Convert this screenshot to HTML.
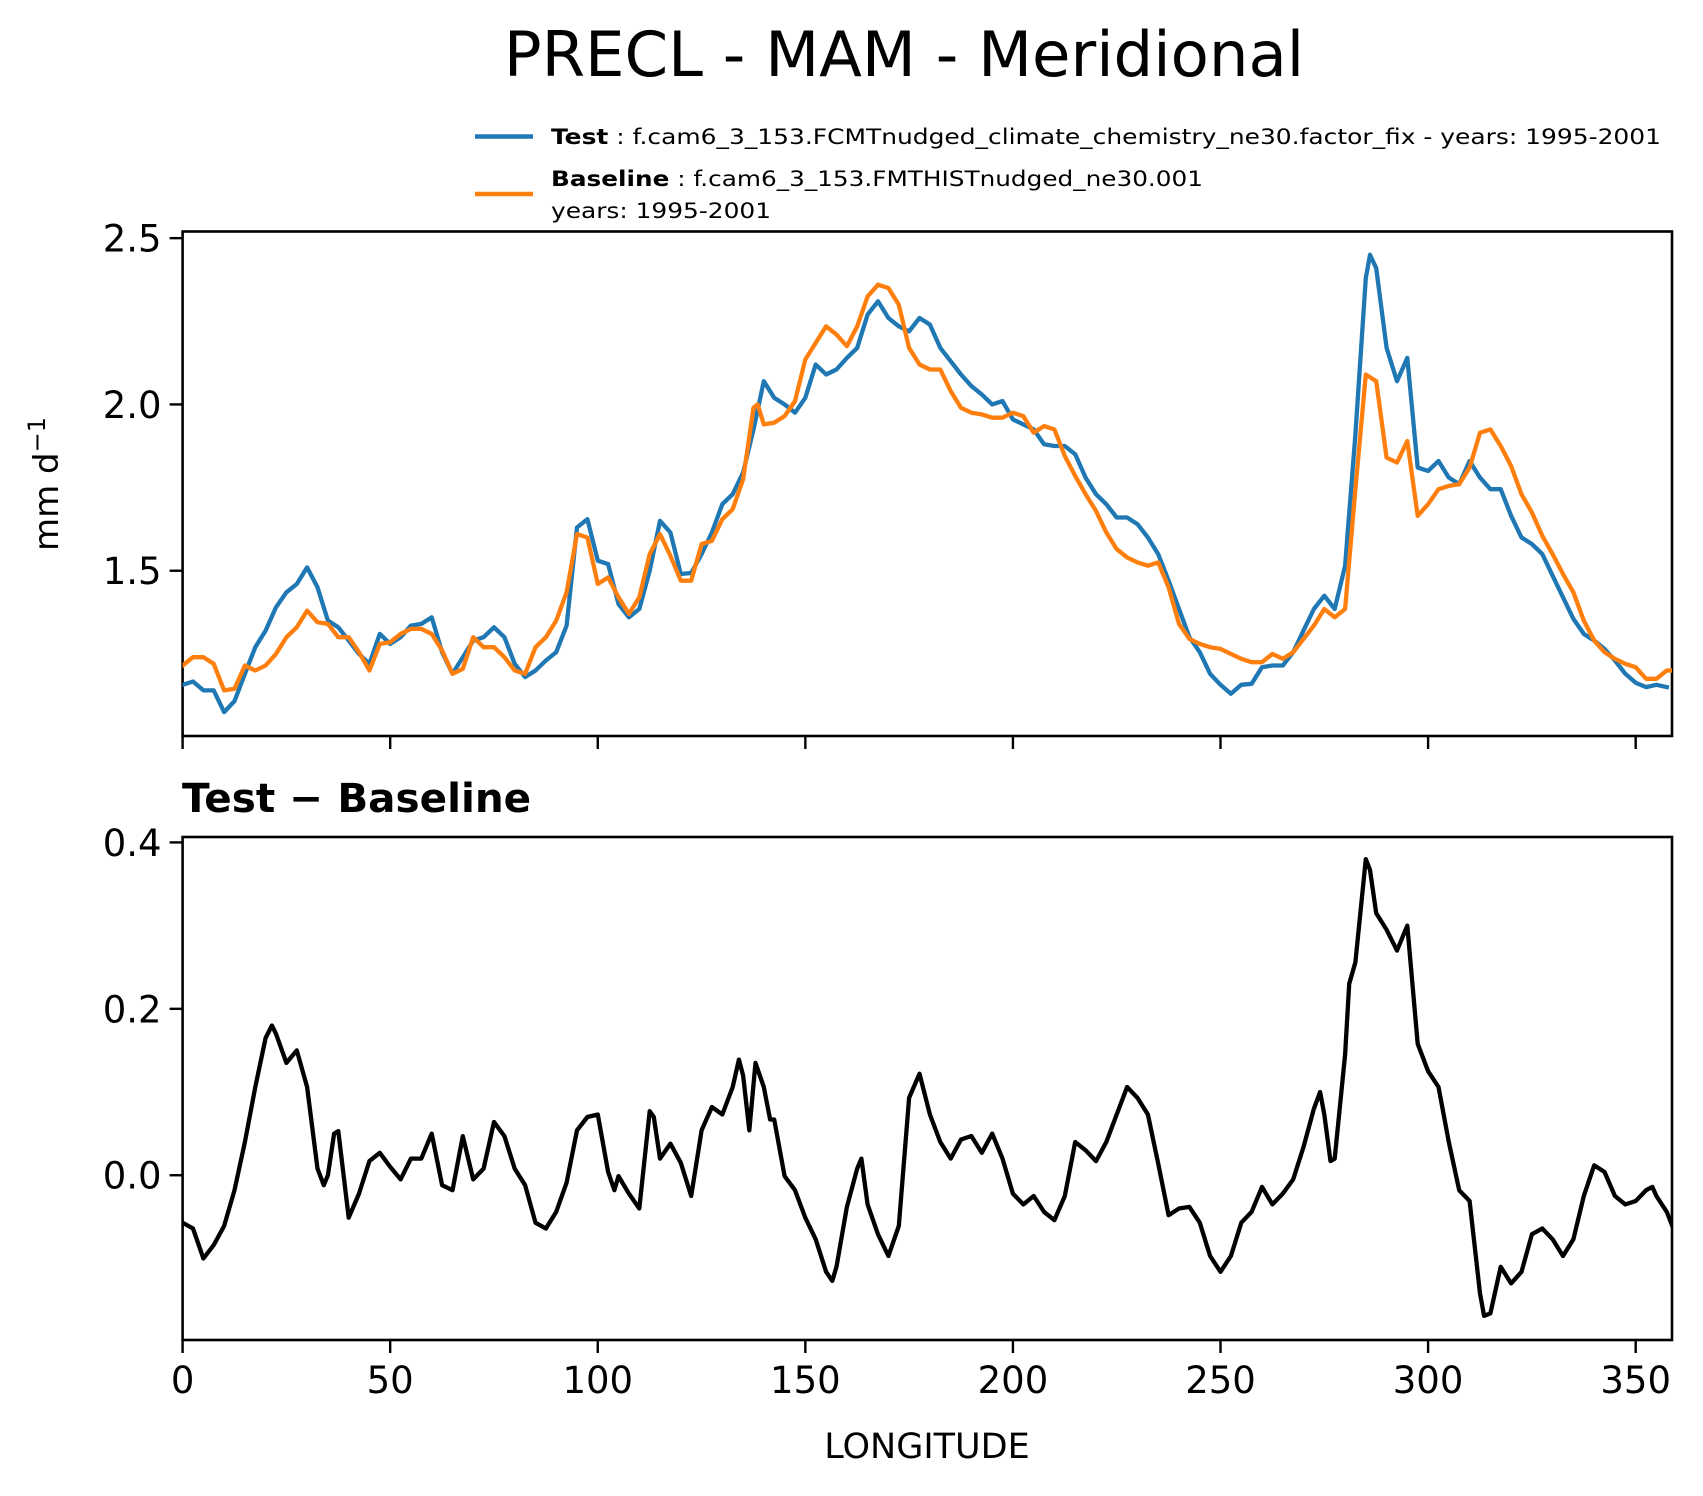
<!DOCTYPE html>
<html><head><meta charset="utf-8">
<style>
html,body{margin:0;padding:0;background:#fff;}
svg{display:block;font-family:"DejaVu Sans","Liberation Sans",sans-serif;}
</style></head>
<body>
<svg id="chart" width="1703" height="1496" viewBox="0 0 1703 1496" xmlns="http://www.w3.org/2000/svg">
<rect width="1703" height="1496" fill="#fff"/>
<text x="904" y="76" font-size="62.5" text-anchor="middle" fill="#000">PRECL - MAM - Meridional</text>
<g>
  <line x1="475" y1="136.5" x2="533" y2="136.5" stroke="#1f77b4" stroke-width="4.5"/>
  <text x="551" y="144" font-size="21.5" textLength="1110" lengthAdjust="spacingAndGlyphs" fill="#000"><tspan font-weight="bold">Test</tspan> : f.cam6_3_153.FCMTnudged_climate_chemistry_ne30.factor_fix - years: 1995-2001</text>
  <line x1="475" y1="194" x2="533" y2="194" stroke="#ff7f0e" stroke-width="4.5"/>
  <text x="551" y="186" font-size="21.5" textLength="652" lengthAdjust="spacingAndGlyphs" fill="#000"><tspan font-weight="bold">Baseline</tspan> : f.cam6_3_153.FMTHISTnudged_ne30.001</text>
  <text x="551" y="218" font-size="21.5" textLength="220" lengthAdjust="spacingAndGlyphs" fill="#000">years: 1995-2001</text>
</g>
<text transform="translate(58,484) rotate(-90)" font-size="34" text-anchor="middle" fill="#000">mm d<tspan dy="-13" font-size="24">−1</tspan></text>
<text x="182" y="812" font-size="40.5" font-weight="bold" fill="#000">Test − Baseline</text>
<text x="927" y="1458" font-size="35" text-anchor="middle" fill="#000">LONGITUDE</text>
<g id="top"></g>
<g id="bot"></g>
</svg>
<script>
const lonTest=[0,2.5,5,7.5,10,12.5,15,17.5,20,22.5,25,27.5,30,32.5,35,37.5,40,42.5,45,47.5,50,52.5,55,57.5,60,62.5,65,67.5,70,72.5,75,77.5,80,82.5,85,87.5,90,92.5,95,97.5,100,102.5,105,107.5,110,112.5,115,117.5,120,122.5,125,127.5,130,132.5,135,137.5,140,142.5,145,147.5,150,152.5,155,157.5,160,162.5,165,167.5,170,172.5,175,177.5,180,182.5,185,187.5,190,192.5,195,197.5,200,202.5,205,207.5,210,212.5,215,217.5,220,222.5,225,227.5,230,232.5,235,237.5,240,242.5,245,247.5,250,252.5,255,257.5,260,262.5,265,267.5,270,272.5,275,277.5,280,282.5,285,286,287.5,290,292.5,295,297.5,300,302.5,305,307.5,310,312.5,315,317.5,320,322.5,325,327.5,330,332.5,335,337.5,340,342.5,345,347.5,350,352.5,355,357.5];
const testVals=[1.157,1.167,1.14,1.14,1.075,1.108,1.19,1.27,1.32,1.39,1.435,1.46,1.51,1.45,1.35,1.33,1.29,1.25,1.22,1.31,1.28,1.30,1.335,1.34,1.36,1.255,1.19,1.24,1.29,1.30,1.33,1.30,1.22,1.18,1.20,1.23,1.255,1.335,1.63,1.655,1.53,1.52,1.40,1.36,1.385,1.50,1.65,1.615,1.49,1.493,1.55,1.615,1.70,1.73,1.795,1.925,2.07,2.02,2.0,1.975,2.02,2.12,2.09,2.105,2.14,2.17,2.27,2.31,2.26,2.235,2.22,2.26,2.24,2.17,2.13,2.09,2.055,2.03,2.0,2.01,1.955,1.94,1.925,1.88,1.875,1.875,1.85,1.78,1.73,1.70,1.66,1.66,1.64,1.60,1.55,1.47,1.385,1.30,1.255,1.19,1.157,1.13,1.157,1.16,1.21,1.215,1.215,1.255,1.32,1.385,1.425,1.385,1.515,1.91,2.38,2.45,2.41,2.17,2.07,2.14,1.81,1.80,1.83,1.78,1.76,1.83,1.78,1.745,1.745,1.665,1.60,1.58,1.55,1.485,1.42,1.355,1.31,1.29,1.265,1.23,1.19,1.163,1.15,1.157,1.15];
const lonBase=[0,2.5,5,7.5,10,12.5,15,17.5,20,22.5,25,27.5,30,32.5,35,37.5,40,42.5,45,47.5,50,52.5,55,57.5,60,62.5,65,67.5,70,72.5,75,77.5,80,82.5,85,87.5,90,92.5,95,97.5,100,102.5,105,107.5,110,112.5,115,117.5,120,122.5,125,127.5,130,132.5,135,137.5,138.5,140,142.5,145,147.5,150,152.5,155,157.5,160,162.5,165,167.5,170,172.5,175,177.5,180,182.5,185,187.5,190,192.5,195,197.5,200,202.5,205,207.5,210,212.5,215,217.5,220,222.5,225,227.5,230,232.5,235,237.5,240,242.5,245,247.5,250,252.5,255,257.5,260,262.5,265,267.5,270,272.5,275,277.5,280,282.5,285,287.5,290,292.5,295,297.5,300,302.5,305,307.5,310,312.5,315,317.5,320,322.5,325,327.5,330,332.5,335,337.5,340,342.5,345,347.5,350,352.5,355,357.5,358.75];
const baseVals=[1.215,1.24,1.24,1.22,1.14,1.145,1.215,1.2,1.215,1.25,1.30,1.33,1.38,1.345,1.34,1.30,1.30,1.255,1.20,1.28,1.285,1.31,1.325,1.325,1.31,1.26,1.19,1.205,1.30,1.27,1.27,1.24,1.20,1.19,1.27,1.30,1.35,1.435,1.61,1.60,1.46,1.48,1.42,1.37,1.42,1.55,1.61,1.545,1.47,1.47,1.58,1.59,1.655,1.685,1.775,1.99,2.0,1.94,1.945,1.965,2.01,2.135,2.185,2.235,2.21,2.175,2.235,2.325,2.36,2.35,2.30,2.17,2.12,2.105,2.105,2.04,1.99,1.975,1.97,1.96,1.96,1.975,1.965,1.915,1.935,1.925,1.845,1.785,1.73,1.68,1.615,1.565,1.54,1.525,1.515,1.525,1.45,1.34,1.295,1.28,1.27,1.265,1.25,1.235,1.225,1.225,1.25,1.235,1.255,1.295,1.335,1.385,1.36,1.385,1.745,2.09,2.07,1.84,1.825,1.89,1.665,1.70,1.745,1.755,1.76,1.81,1.915,1.925,1.875,1.815,1.73,1.675,1.605,1.55,1.49,1.435,1.35,1.29,1.255,1.235,1.22,1.21,1.175,1.175,1.2,1.2];
const lonDiff=[0,2.5,5,7.5,10,12.5,15,17.5,20,21.5,22.5,25,27.5,30,32.5,34,35,36.5,37.5,40,42.5,45,47.5,50,52.5,55,57.5,60,62.5,65,67.5,70,72.5,75,77.5,80,82.5,85,87.5,90,92.5,95,97.5,100,102.5,104,105,107.5,110,112.5,113.5,115,117.5,120,122.5,125,127.5,130,132.5,134,135,136.5,138,140,141.5,142.5,145,147.5,150,152.5,155,156.5,157.5,160,162.5,163.5,165,167.5,170,172.5,175,177.5,180,182.5,185,187.5,190,192.5,195,197.5,200,202.5,205,207.5,210,212.5,215,217.5,220,222.5,225,227.5,230,232.5,235,237.5,240,242.5,245,247.5,250,252.5,255,257.5,260,262.5,265,267.5,270,272.5,274,275,276.5,277.5,280,281,282.5,285,286,287.5,290,292.5,295,297.5,300,302.5,305,307.5,310,312.5,313.5,315,317.5,320,322.5,325,327.5,330,332.5,335,337.5,340,342.5,345,347.5,350,352.5,354,355,357.5,358.75];
const diffVals=[-0.057,-0.064,-0.10,-0.084,-0.061,-0.018,0.04,0.106,0.165,0.18,0.17,0.135,0.15,0.106,0.008,-0.012,0,0.05,0.053,-0.051,-0.022,0.017,0.027,0.01,-0.005,0.02,0.02,0.05,-0.012,-0.018,0.047,-0.005,0.008,0.064,0.047,0.008,-0.012,-0.057,-0.064,-0.044,-0.009,0.054,0.07,0.073,0.004,-0.018,-0.001,-0.022,-0.04,0.077,0.07,0.02,0.038,0.015,-0.025,0.054,0.082,0.073,0.106,0.139,0.12,0.054,0.135,0.106,0.067,0.067,-0.001,-0.018,-0.051,-0.077,-0.116,-0.127,-0.11,-0.038,0.008,0.02,-0.035,-0.071,-0.097,-0.061,0.093,0.122,0.073,0.04,0.02,0.043,0.047,0.027,0.05,0.02,-0.022,-0.035,-0.025,-0.044,-0.054,-0.025,0.04,0.03,0.017,0.04,0.073,0.106,0.093,0.073,0.014,-0.048,-0.04,-0.038,-0.057,-0.097,-0.116,-0.097,-0.057,-0.044,-0.014,-0.035,-0.022,-0.005,0.034,0.08,0.1,0.073,0.017,0.02,0.145,0.23,0.256,0.38,0.367,0.315,0.295,0.27,0.30,0.158,0.125,0.106,0.04,-0.018,-0.031,-0.142,-0.169,-0.166,-0.11,-0.13,-0.116,-0.071,-0.064,-0.077,-0.097,-0.077,-0.025,0.012,0.004,-0.025,-0.035,-0.031,-0.018,-0.014,-0.025,-0.044,-0.06];
const xTicks=[0,50,100,150,200,250,300,350];
const yTicksTop=[1.5,2.0,2.5];
const yTicksBot=[0.0,0.2,0.4];

const NS='http://www.w3.org/2000/svg';
const L=182.6,R=1672,XMAX=358.75;
const xs=v=>L+(v/XMAX)*(R-L);
const topT=231.5,topB=736,topMin=1.003,topMax=2.52;
const botT=837,botB=1340,botMin=-0.198,botMax=0.4065;
const ysTop=v=>topB-(v-topMin)/(topMax-topMin)*(topB-topT);
const ysBot=v=>botB-(v-botMin)/(botMax-botMin)*(botB-botT);
function mk(tag,attrs,parent){const e=document.createElementNS(NS,tag);for(const k in attrs)e.setAttribute(k,attrs[k]);parent.appendChild(e);return e;}
function series(g,lons,vals,ys,color,name){
  const d=lons.map((x,i)=>(i?'L':'M')+xs(x).toFixed(1)+','+ys(vals[i]).toFixed(1)).join('');
  const p=mk('path',{d:d,fill:'none',stroke:color,'stroke-width':4.3,'stroke-linejoin':'round','stroke-linecap':'square'},g);
  
  
}
function axes(g,T,B,ys,yt,labelX,name){
  const cp=name+'-clip';
  const defs=mk('defs',{},g);const c=mk('clipPath',{id:cp},defs);mk('rect',{x:L,y:T,width:R-L,height:B-T},c);
  const frame=mk('rect',{x:L,y:T,width:R-L,height:B-T,fill:'none',stroke:'#000','stroke-width':2.6},g);
  
  
  xTicks.forEach(v=>{
    const t=mk('line',{x1:xs(v),x2:xs(v),y1:B,y2:B+13,stroke:'#000','stroke-width':2.4},g);
    
    
    if(labelX){const tx=mk('text',{x:xs(v),y:B+53,'font-size':37,'text-anchor':'middle'},g);tx.textContent=String(v);
      
      }
  });
  yt.forEach(v=>{
    const y=ys(v);
    const t=mk('line',{x1:L-13,x2:L,y1:y,y2:y,stroke:'#000','stroke-width':2.4},g);
    
    
    const tx=mk('text',{x:L-21,y:y+13.5,'font-size':37,'text-anchor':'end'},g);tx.textContent=v.toFixed(1);
    
    
  });
  const pg=mk('g',{'clip-path':'url(#'+cp+')'},g);
  return pg;
}
const gt=document.getElementById('top');


const pt=axes(gt,topT,topB,ysTop,yTicksTop,false,'top-axes');
series(pt,lonTest,testVals,ysTop,'#1f77b4','test-line');
series(pt,lonBase,baseVals,ysTop,'#ff7f0e','baseline-line');
const gb=document.getElementById('bot');


const pb=axes(gb,botT,botB,ysBot,yTicksBot,true,'diff-axes');
series(pb,lonDiff,diffVals,ysBot,'#000','diff-line');
</script>
</body></html>
